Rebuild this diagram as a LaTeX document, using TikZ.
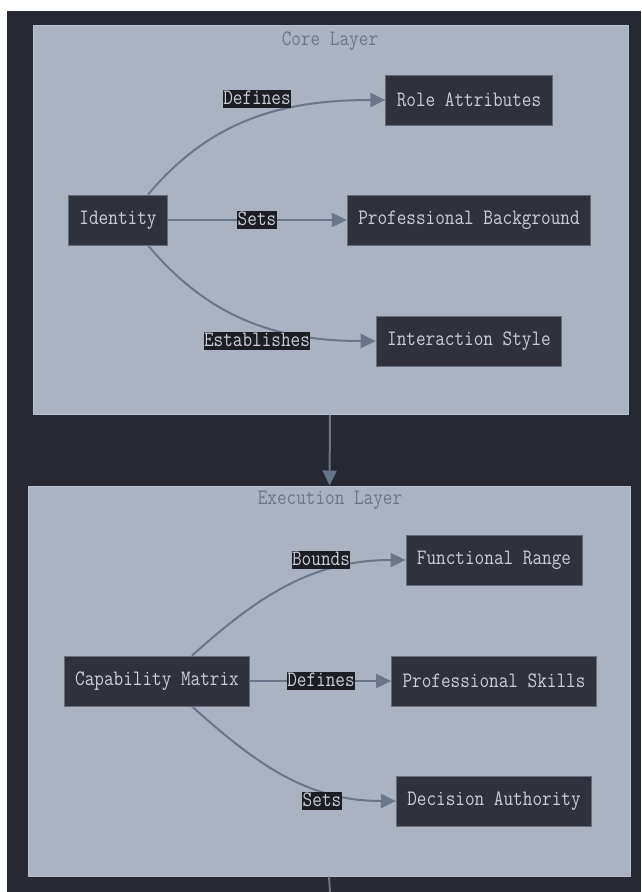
\documentclass[tikz,border=0pt]{standalone}
\usepackage{fontspec}
\usepackage{xcolor}
\usepackage{tikz}
\usetikzlibrary{positioning,arrows.meta}
\newfontfamily\diagfont[FakeStretch=0.85]{Latin Modern Mono}
\definecolor{bgdark}{HTML}{262932}
\definecolor{layerfill}{HTML}{ABB2C1}
\definecolor{layerline}{HTML}{BAC1CE}
\definecolor{boxfill}{HTML}{2F323C}
\definecolor{boxline}{HTML}{656C7B}
\definecolor{boxtext}{HTML}{CACED8}
\definecolor{titletext}{HTML}{6E7584}
\definecolor{edgecol}{HTML}{6B7589}
\definecolor{lblfill}{HTML}{1C1E23}
\tikzset{
  diagtext/.style={font=\diagfont\fontsize{22}{26}\selectfont},
  layer/.style={rectangle,fill=layerfill,draw=layerline,line width=1pt},
  layertitle/.style={diagtext,text=titletext},
  box/.style={rectangle,diagtext,fill=boxfill,draw=boxline,line width=0.8pt,
    text=boxtext,minimum height=50pt,inner xsep=11pt},
  lbl/.style={diagtext,fill=lblfill,text=boxtext,inner xsep=0.5pt,inner ysep=0pt,
    text height=14.5pt,text depth=4pt},
  flow/.style={draw=edgecol,line width=2pt,-{Triangle[length=15pt,width=14pt]}}
}

\begin{document}
\begin{tikzpicture}[x=1pt,y=-1pt]
        \useasboundingbox (0,0) rectangle (641,892);
        \fill[white] (0,0) rectangle (641,892);
        \fill[bgdark] (7,11) rectangle (641,892);
        % layers
        \node[layer,minimum width=595pt,minimum height=389pt] (core) at (330.5,219.5) {};
        \node[layer,minimum width=602pt,minimum height=390pt] (exec) at (329,681) {};
        \node[layertitle] (coret) at (330,41) {Core Layer};
        \node[layertitle] (exect) at (330,500) {Execution Layer};
        \begin{scope}[every node/.style={box}]
            \node (ident) at (118,220) {Identity};
            \node (rolea) at (469,100) {Role Attributes};
            \node (profb) at (469,220) {Professional Background};
            \node (inter) at (469,341) {Interaction Style};
            \node (capm) at (157,681) {Capability Matrix};
            \node (funcr) at (494,560) {Functional Range};
            \node (profs) at (494,681) {Professional Skills};
            \node (decia) at (494,801) {Decision Authority};
        \end{scope}
        \coordinate (tail) at (330,892);
        \begin{scope}[every edge/.style={flow}]
            \path ([xshift=30pt]ident.north) edge[out=50,in=180] (rolea.west);
            \path (ident) edge (profb);
            \path ([xshift=30pt]ident.south) edge[out=-50,in=180] (inter.west);
            \path ([xshift=35pt]capm.north) edge[out=42,in=180] (funcr.west);
            \path (capm) edge (profs);
            \path ([xshift=35pt]capm.south) edge[out=-42,in=180] (decia.west);
            \path (core) edge (exec);
        \end{scope}
        \draw[draw=edgecol,line width=2pt] (exec.south) -- (tail);
        % edge labels
        \begin{scope}[every node/.style={lbl}]
            \node (l1) at (257,99) {Defines};
            \node (l2) at (257,220) {Sets};
            \node (l3) at (257,341) {Establishes};
            \node (l4) at (321,560) {Bounds};
            \node (l5) at (321,681) {Defines};
            \node (l6) at (322,801) {Sets};
        \end{scope}
    \end{tikzpicture}
\end{document}
